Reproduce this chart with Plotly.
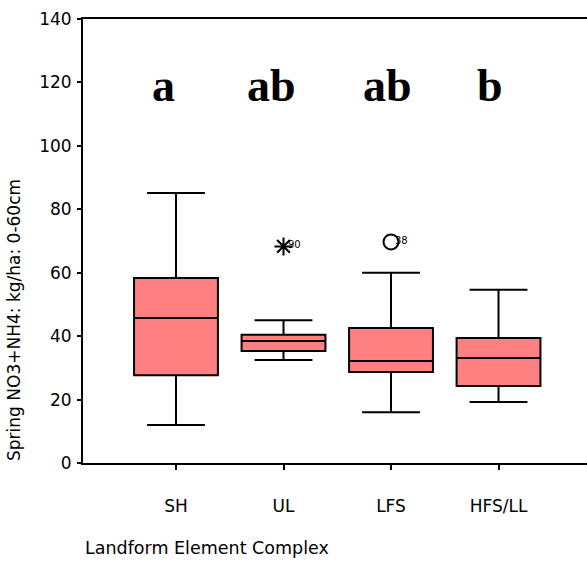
import plotly.graph_objects as go

categories = ["SH", "UL", "LFS", "HFS/LL"]
lower_fence = [12.0, 32.5, 16.0, 19.2]
q1 = [27.7, 35.3, 28.7, 24.3]
median = [45.7, 38.5, 32.2, 33.1]
q3 = [58.3, 40.4, 42.6, 39.4]
upper_fence = [85.1, 45.0, 60.0, 54.6]

outlier_cat = [2, 3]
outlier_val = [68.3, 69.7]
outlier_label = ["90", "38"]
outlier_symbol = ["asterisk-open", "circle-open"]

group_letters = ["a", "ab", "ab", "b"]
letter_x = [0.88, 1.885, 2.963, 3.92]

yticks = [0, 20, 40, 60, 80, 100, 120, 140]

positions = [1, 2, 3, 4]

fig = go.Figure()
fig.add_trace(go.Box(
    x=positions, q1=q1, median=median, q3=q3,
    lowerfence=lower_fence, upperfence=upper_fence,
    width=0.78, whiskerwidth=0.69,
    fillcolor="#FF8080", line=dict(color="#000000", width=2),
    boxpoints=False, showlegend=False, hoverinfo="skip",
))

for c, v, lab, sym in zip(outlier_cat, outlier_val, outlier_label, outlier_symbol):
    fig.add_trace(go.Scatter(
        x=[c], y=[v], mode="markers", showlegend=False,
        marker=dict(symbol=sym, size=15, color="#000000",
                    line=dict(color="#000000", width=2)),
    ))
    fig.add_annotation(x=c, y=v + 0.5, xref="x", yref="y", text=lab,
                       showarrow=False, xanchor="left", xshift=2,
                       font=dict(family="DejaVu Sans", size=10, color="#000000"))

for x, t in zip(letter_x, group_letters):
    fig.add_annotation(x=x, y=119, xref="x", yref="y", text="<b>%s</b>" % t,
                       showarrow=False, xanchor="center", yanchor="middle",
                       font=dict(family="Liberation Serif", size=46, color="#000000"))

fig.add_annotation(x=-0.137, y=0.322, xref="paper", yref="paper",
                   text="Spring NO3+NH4: kg/ha: 0-60cm", textangle=-90,
                   showarrow=False, xanchor="center", yanchor="middle",
                   font=dict(family="DejaVu Sans", size=17, color="#000000"))
fig.add_annotation(x=0.0, y=-0.191, xref="paper", yref="paper",
                   text="Landform Element Complex", showarrow=False,
                   xanchor="left", yanchor="middle",
                   font=dict(family="DejaVu Sans", size=17.5, color="#000000"))

fig.update_layout(
    width=587, height=568,
    margin=dict(l=83, r=0, t=19, b=105),
    paper_bgcolor="white", plot_bgcolor="white",
    font=dict(family="DejaVu Sans", size=14, color="#000000"),
    xaxis=dict(range=[0.135, 4.823], tickvals=positions, ticktext=categories,
               showgrid=False, zeroline=False, showline=True, linecolor="#000000",
               linewidth=2, mirror=True, ticks="outside", ticklen=5, tickwidth=2,
               tickcolor="#000000", tickfont=dict(size=17), ticklabelstandoff=22),
    yaxis=dict(range=[0, 140], tickvals=yticks, showgrid=False, zeroline=False,
               showline=True, linecolor="#000000", linewidth=2, ticks="outside",
               ticklen=4, tickwidth=1.5, tickcolor="#000000",
               tickfont=dict(size=17), ticklabelstandoff=2),
)

fig.write_html("out.html")
